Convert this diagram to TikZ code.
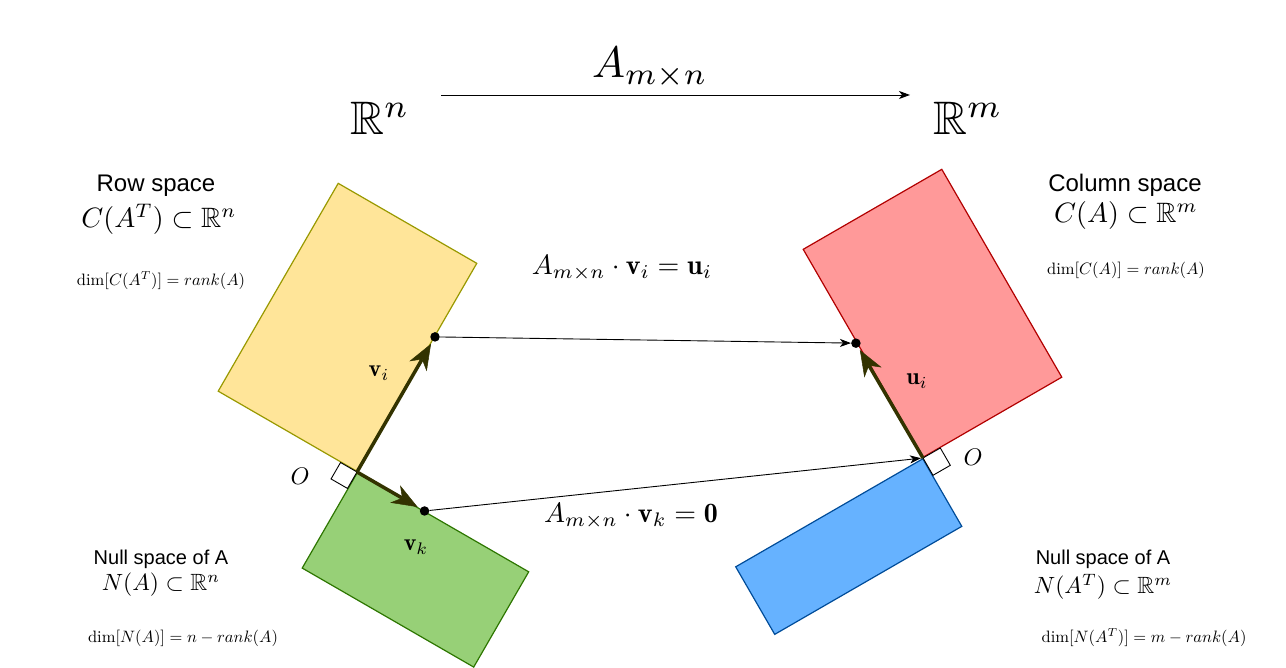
\documentclass[tikz,border=0pt]{standalone}
\usepackage{amsmath,amssymb}
\usepackage{fontspec}
\newfontfamily\labelfont{Liberation Sans}
\usetikzlibrary{arrows.meta}
\definecolor{RowFill}{HTML}{FFE599}
\definecolor{RowLine}{HTML}{999900}
\definecolor{NullFill}{HTML}{97D077}
\definecolor{NullLine}{HTML}{2D7600}
\definecolor{ColFill}{HTML}{FF9999}
\definecolor{ColLine}{HTML}{B20000}
\definecolor{LeftFill}{HTML}{66B2FF}
\definecolor{LeftLine}{HTML}{004C99}
\definecolor{VecDark}{HTML}{333300}
\tikzset{
  yellowbox/.style={draw=RowLine,fill=RowFill,line width=1.2pt,inner sep=0pt},
  greenbox/.style={draw=NullLine,fill=NullFill,line width=1.2pt,inner sep=0pt},
  redbox/.style={draw=ColLine,fill=ColFill,line width=1.2pt,inner sep=0pt},
  bluebox/.style={draw=LeftLine,fill=LeftFill,line width=1.2pt,inner sep=0pt},
  vec/.style={-{Stealth[length=26pt,width=20pt,inset=8pt,line width=0.5pt]},line width=3.5pt,draw=VecDark,shorten >=3pt},
  flow/.style={-{Stealth[length=11pt,width=8pt,inset=3pt]},line width=0.9pt},
  dot/.style={circle,fill,inner sep=0pt,minimum size=9.5pt},
  rightangle/.style={draw,fill=white,line width=0.9pt},
  lbl/.style={inner sep=0pt},
  title/.style={lbl,font=\labelfont,scale=2.4},
  subtitle/.style={lbl,font=\labelfont,scale=2.0},
  note/.style={lbl,scale=1.65}
}
\begin{document}
\begin{tikzpicture}[x=1pt,y=1pt]
  \useasboundingbox (0,0) rectangle (1286,668);

  \coordinate (O1) at (357,196);
  \coordinate (O2) at (923,210);

  \node[yellowbox,rotate=60,minimum width=240,minimum height=160,anchor=south west] (rowsp) at (O1) {};
  \node[greenbox,rotate=-30,minimum width=198,minimum height=110,anchor=north west] (nullsp) at (O1) {};
  \node[redbox,rotate=30,minimum width=160,minimum height=240,anchor=south west] (colsp) at (O2) {};
  \node[bluebox,rotate=30,minimum width=216,minimum height=78,anchor=north east] (leftnull) at (O2) {};

  \draw[rightangle] (O1) -- ++(150:19) -- ++(-120:19) -- ++(-30:19) -- cycle;
  \draw[rightangle] (O2) -- ++(30:20) -- ++(-60:20) -- ++(210:20) -- cycle;

  \coordinate (vi) at ([shift={(60:156)}]O1);
  \coordinate (vk) at ([shift={(-30:78)}]O1);
  \coordinate (ui) at ([shift={(120.3:133)}]O2);

  \node[dot] (vidot) at (vi) {};
  \node[dot] (vkdot) at (vk) {};
  \node[dot] (uidot) at (ui) {};

  \draw[flow] (vidot) -- (uidot);
  \draw[flow,shorten >=2pt] (vkdot) -- (O2);

  \draw[vec] (O1) -- (vidot);
  \draw[vec] (O1) -- (vkdot);
  \draw[vec] (O2) -- (uidot);

  \node[lbl,scale=4.7] (Rn) at (380,550) {$\mathbb{R}^n$};
  \node[lbl,scale=4.7] (Rm) at (968,550) {$\mathbb{R}^m$};
  \node[lbl,scale=4.4] (Amap) at (650,600) {$A_{m\times n}$};
  \coordinate (mapfrom) at (441,573);
  \coordinate (mapto) at (910,573);
  \draw[flow] (mapfrom) -- (mapto);

  \node[title] (rowtitle) at (156,482) {Row space};
  \node[lbl,scale=2.8] (rowset) at (159,449) {$C(A^T)\subset\mathbb{R}^n$};
  \node[note] (rowdim) at (161,387) {$\dim[C(A^T)]=rank(A)$};

  \node[title] (coltitle) at (1125,483) {Column space};
  \node[lbl,scale=2.8] (colset) at (1126,452) {$C(A)\subset\mathbb{R}^m$};
  \node[note] (coldim) at (1126,398) {$\dim[C(A)]=rank(A)$};

  \node[subtitle] (nulltitle) at (161,109) {Null space of A};
  \node[lbl,scale=2.35] (nullset) at (161,83) {$N(A)\subset\mathbb{R}^n$};
  \node[note] (nulldim) at (183,30) {$\dim[N(A)]=n-rank(A)$};

  \node[subtitle] (lefttitle) at (1103,109) {Null space of A};
  \node[lbl,scale=2.35] (leftset) at (1103,81) {$N(A^T)\subset\mathbb{R}^m$};
  \node[note] (leftdim) at (1144,30) {$\dim[N(A^T)]=m-rank(A)$};

  \node[lbl,scale=2.8] (mapvi) at (622,400) {$A_{m\times n}\cdot\mathbf{v}_i=\mathbf{u}_i$};
  \node[lbl,scale=2.8] (mapvk) at (631,152) {$A_{m\times n}\cdot\mathbf{v}_k=\mathbf{0}$};

  \node[lbl,scale=2.4] (vilabel) at (379,295) {$\mathbf{v}_i$};
  \node[lbl,scale=2.4] (uilabel) at (917,287) {$\mathbf{u}_i$};
  \node[lbl,scale=2.4] (vklabel) at (416,121) {$\mathbf{v}_k$};
  \node[lbl,scale=2.4] (oleft) at (300,192) {$O$};
  \node[lbl,scale=2.4] (oright) at (973,211) {$O$};
\end{tikzpicture}
\end{document}
